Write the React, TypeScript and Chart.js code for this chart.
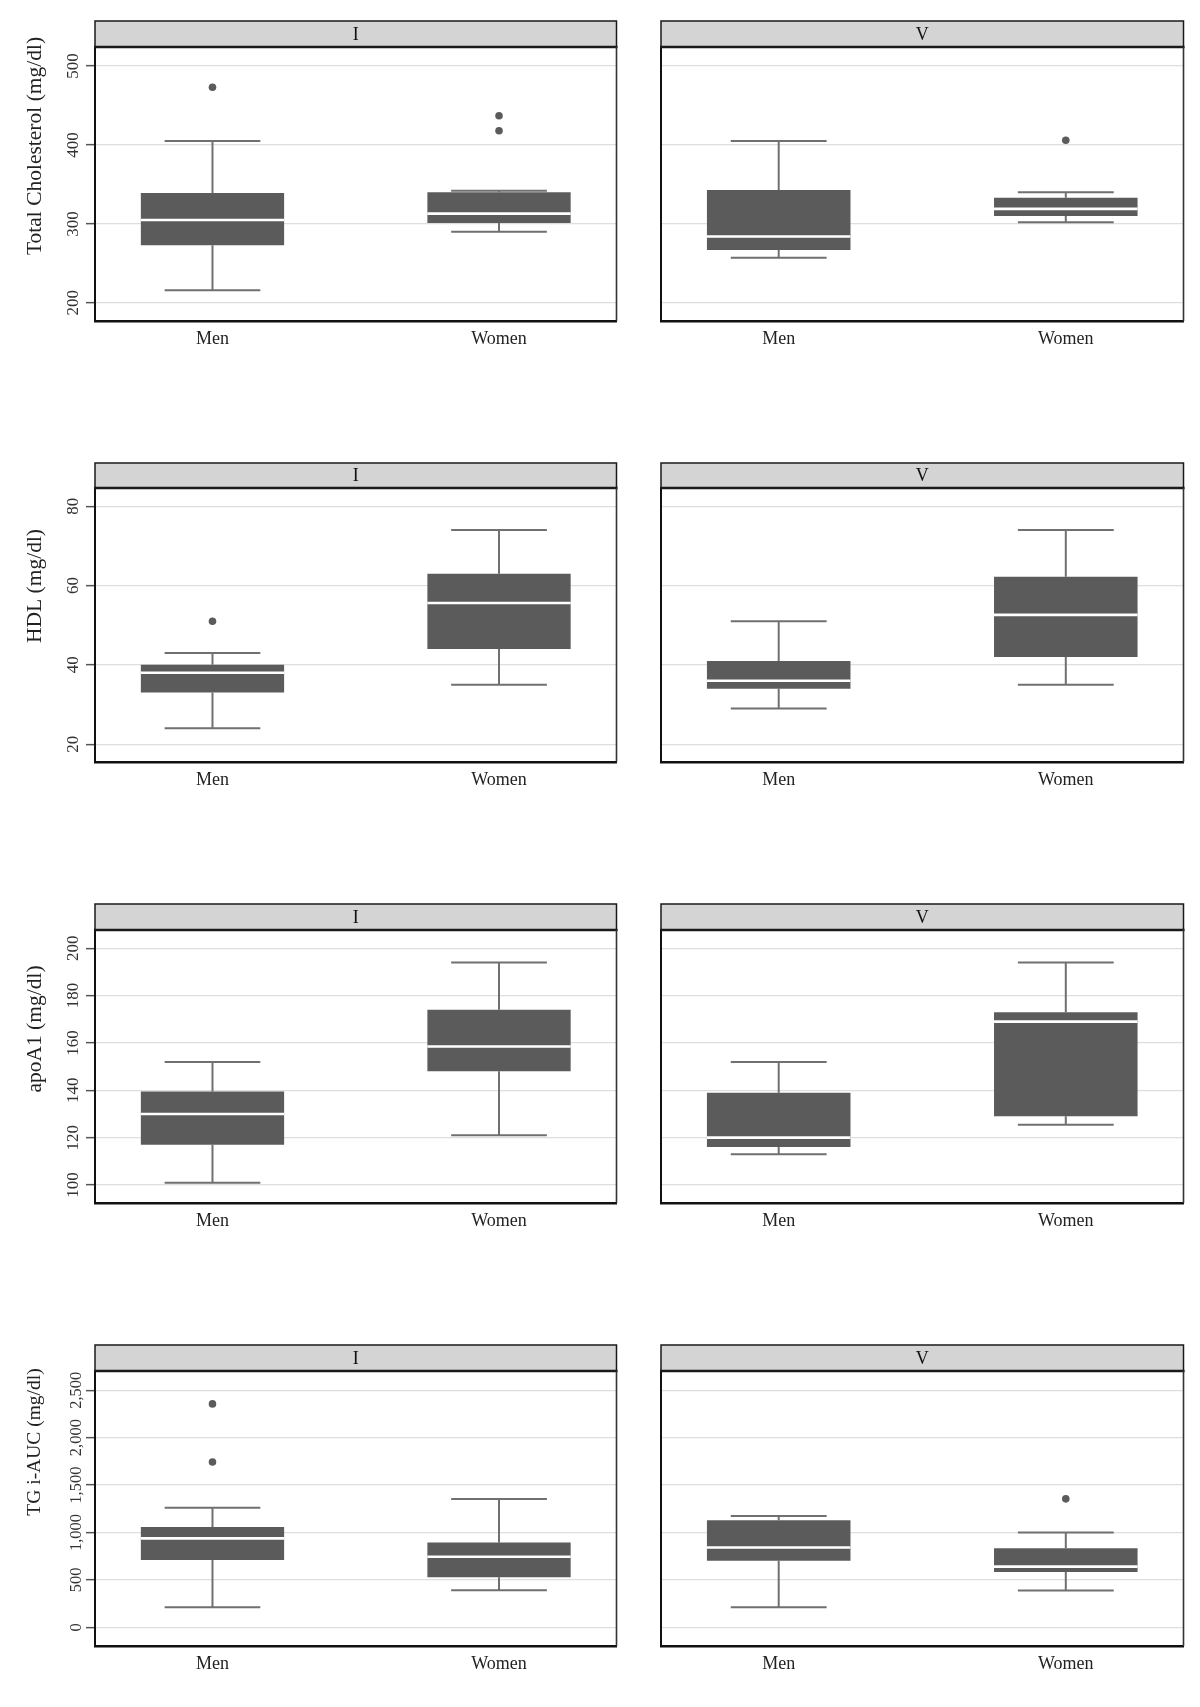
import React, { useEffect, useRef } from "react";
import { Chart, registerables } from "chart.js";

Chart.register(...registerables);

const FONT = "'Liberation Serif', 'Times New Roman', serif";

const categories = ["Men", "Women"];
const panelLabels = ["I", "V"];

// [lower whisker, Q1, median, Q3, upper whisker] — Men, Women
const cholI = [[216, 273, 305, 339, 405], [290, 301, 313, 340, 342]];
const cholV = [[257, 267, 284, 343, 405], [302, 310, 319, 333, 340]];
const cholIOut = [[473], [437, 418]];
const cholVOut = [[], [406]];

const hdlI = [[24, 33, 38, 40, 43], [35, 44, 55.6, 63, 74]];
const hdlV = [[29, 34, 36, 41, 51], [35, 42, 52.6, 62.2, 74]];
const hdlIOut = [[51], []];
const hdlVOut = [[], []];

const apoI = [[101, 117, 130, 139.5, 152], [121, 148, 158.5, 174, 194]];
const apoV = [[113, 116, 120, 139, 152], [125.5, 129, 169, 173, 194]];
const apoIOut = [[], []];
const apoVOut = [[], []];

const tgI = [[211, 710, 938, 1057, 1260], [390, 527, 744, 895, 1352]];
const tgV = [[211, 701, 842, 1130, 1175], [387, 584, 640, 833, 1000]];
const tgIOut = [[2356, 1744], []];
const tgVOut = [[], [1355]];

const cholTicks = [200, 300, 400, 500];
const hdlTicks = [20, 40, 60, 80];
const apoTicks = [100, 120, 140, 160, 180, 200];
const tgTicks = [0, 500, 1000, 1500, 2000, 2500];

const yTitles = [
  "Total Cholesterol (mg/dl)",
  "HDL (mg/dl)",
  "apoA1 (mg/dl)",
  "TG i-AUC (mg/dl)",
];

// layout / style (not data)
const rows = [
  { title: yTitles[0], ticks: cholTicks, range: [177, 524], stats: [cholI, cholV], outs: [cholIOut, cholVOut], geom: [21, 47, 321], titleY: 146, titleSize: 21.5, tickSize: 17, tickGap: 17 },
  { title: yTitles[1], ticks: hdlTicks, range: [15.5, 84.6], stats: [hdlI, hdlV], outs: [hdlIOut, hdlVOut], geom: [463, 488, 762], titleY: 586, titleSize: 21.5, tickSize: 17, tickGap: 17 },
  { title: yTitles[2], ticks: apoTicks, range: [92.4, 207.7], stats: [apoI, apoV], outs: [apoIOut, apoVOut], geom: [904, 930, 1203], titleY: 1029, titleSize: 21.5, tickSize: 17, tickGap: 17 },
  { title: yTitles[3], ticks: tgTicks, range: [-197, 2703], stats: [tgI, tgV], outs: [tgIOut, tgVOut], geom: [1345, 1371, 1646], titleY: 1442, titleSize: 19.5, tickSize: 16.5, tickGap: 14.5 },
];

const cols = [
  { left: 0, width: 640, yW: 95, padRight: 23.5 },
  { left: 640, width: 560, yW: 21, padRight: 16.5 },
];

const X_PAD = 0.41;
const BOX_HALF = 0.25;
const CAP_HALF = 0.167;
const BOX_COLOR = "#5b5b5b";
const WHISKER_COLOR = "#707070";

const facetPlugin = {
  id: "facet",
  afterDraw(chart: any, _args: any, opts: any) {
    const { ctx, chartArea: a } = chart;
    ctx.save();
    const sh = opts.stripH;
    // strip
    ctx.fillStyle = "#d4d4d4";
    ctx.fillRect(a.left, a.top - sh, a.right - a.left, sh);
    ctx.strokeStyle = "#1a1a1a";
    ctx.lineWidth = 1.5;
    ctx.strokeRect(a.left, a.top - sh, a.right - a.left, sh);
    ctx.lineWidth = 2.5;
    ctx.beginPath();
    ctx.moveTo(a.left - 1, a.top);
    ctx.lineTo(a.right + 1, a.top);
    ctx.stroke();
    // right border
    ctx.lineWidth = 1.6;
    ctx.strokeStyle = "#333";
    ctx.beginPath();
    ctx.moveTo(a.right, a.top);
    ctx.lineTo(a.right, a.bottom);
    ctx.stroke();
    // strip label
    ctx.fillStyle = "#111";
    ctx.font = `18px ${FONT}`;
    ctx.textAlign = "center";
    ctx.textBaseline = "middle";
    ctx.fillText(opts.label, (a.left + a.right) / 2, a.top - sh / 2 + 1);

    if (opts.showY) {
      const ys = chart.scales.y;
      ctx.fillStyle = "#333";
      ctx.font = `${opts.tickSize}px ${FONT}`;
      ctx.textAlign = "center";
      ctx.textBaseline = "alphabetic";
      ys.ticks.forEach((t: any) => {
        const y = ys.getPixelForValue(t.value);
        ctx.save();
        ctx.translate(a.left - opts.tickGap, y);
        ctx.rotate(-Math.PI / 2);
        ctx.fillText(Number(t.value).toLocaleString("en-US"), 0, 0);
        ctx.restore();
      });
      ctx.save();
      ctx.fillStyle = "#222";
      ctx.font = `${opts.titleSize}px ${FONT}`;
      ctx.textAlign = "center";
      ctx.textBaseline = "middle";
      ctx.translate(35, opts.titleY);
      ctx.rotate(-Math.PI / 2);
      ctx.fillText(opts.title, 0, 0);
      ctx.restore();
    }
    ctx.restore();
  },
};

function buildData(stats: number[][], outs: number[][]) {
  const whiskers: any[] = [];
  const boxes: any[] = [];
  const medians: any[] = [];
  const points: any[] = [];
  stats.forEach((s, i) => {
    const x = i + 1;
    const [lo, q1, md, q3, hi] = s;
    whiskers.push(
      { x, y: q3 }, { x, y: hi }, { x, y: null },
      { x: x - CAP_HALF, y: hi }, { x: x + CAP_HALF, y: hi }, { x, y: null },
      { x, y: q1 }, { x, y: lo }, { x, y: null },
      { x: x - CAP_HALF, y: lo }, { x: x + CAP_HALF, y: lo }, { x, y: null }
    );
    boxes.push({ x, y: [q1, q3] });
    medians.push({ x: x - BOX_HALF, y: md }, { x: x + BOX_HALF, y: md }, { x, y: null });
    outs[i].forEach((v) => points.push({ x, y: v }));
  });
  return { whiskers, boxes, medians, points };
}

function Panel({ r, c }: { r: number; c: number }) {
  const ref = useRef<HTMLCanvasElement | null>(null);
  const row = rows[r];
  const col = cols[c];
  const [stripTop, plotTop, plotBottom] = row.geom;
  const canvasTop = stripTop - 6;
  const bottomH = 34;
  const height = plotBottom + bottomH - canvasTop;

  useEffect(() => {
    if (!ref.current) return;
    const d = buildData(row.stats[c], row.outs[c]);
    const chart = new Chart(ref.current, {
      type: "bar",
      data: {
        datasets: [
          {
            type: "line",
            data: d.whiskers,
            borderColor: WHISKER_COLOR,
            borderWidth: 2,
            pointRadius: 0,
            spanGaps: false,
            fill: false,
            tension: 0,
            order: 4,
          } as any,
          {
            type: "bar",
            data: d.boxes,
            backgroundColor: BOX_COLOR,
            borderWidth: 0,
            barPercentage: 1,
            categoryPercentage: 0.5,
            order: 3,
          } as any,
          {
            type: "line",
            data: d.medians,
            borderColor: "#ffffff",
            borderWidth: 2.6,
            pointRadius: 0,
            spanGaps: false,
            fill: false,
            order: 2,
          } as any,
          {
            type: "scatter",
            data: d.points,
            backgroundColor: BOX_COLOR,
            borderWidth: 0,
            pointRadius: 3.8,
            order: 1,
          } as any,
        ],
      },
      options: {
        animation: false,
        responsive: false,
        maintainAspectRatio: false,
        events: [],
        layout: { padding: { top: plotTop - canvasTop, right: col.padRight, left: 0, bottom: 0 } },
        plugins: {
          legend: { display: false },
          tooltip: { enabled: false },
          facet: {
            stripH: plotTop - stripTop,
            label: panelLabels[c],
            showY: c === 0,
            tickSize: row.tickSize,
            tickGap: row.tickGap,
            title: row.title,
            titleSize: row.titleSize,
            titleY: row.titleY - canvasTop,
          },
        } as any,
        scales: {
          x: {
            type: "linear",
            min: 1 - X_PAD,
            max: categories.length + X_PAD,
            offset: false,
            grid: { display: false, drawTicks: false, offset: false },
            border: { display: true, color: "#111", width: 2.5 },
            afterBuildTicks: (s: any) => {
              s.ticks = categories.map((_, i) => ({ value: i + 1 }));
            },
            afterFit: (s: any) => {
              s.height = bottomH;
            },
            ticks: {
              autoSkip: false,
              maxRotation: 0,
              minRotation: 0,
              padding: 7,
              color: "#222",
              font: { family: FONT, size: 18 },
              callback: (v: any) => categories[Math.round(v) - 1] ?? "",
            },
          },
          y: {
            type: "linear",
            min: row.range[0],
            max: row.range[1],
            afterBuildTicks: (s: any) => {
              s.ticks = row.ticks.map((v) => ({ value: v }));
            },
            afterFit: (s: any) => {
              s.width = col.yW;
            },
            ticks: { display: false },
            grid: {
              color: "#dedede",
              lineWidth: 1.3,
              drawTicks: c === 0,
              tickLength: 9,
              tickColor: "#555",
              tickWidth: 1.5,
            },
            border: { display: true, color: "#111", width: 2 },
          },
        } as any,
      },
      plugins: [facetPlugin as any],
    });
    return () => chart.destroy();
  }, [r, c]);

  return (
    <canvas
      ref={ref}
      width={col.width}
      height={height}
      style={{ position: "absolute", left: col.left, top: canvasTop, width: col.width, height }}
    />
  );
}

export default function App() {
  return (
    <div style={{ position: "absolute", left: 0, top: 0, width: 1200, height: 1707, background: "#fff" }}>
      {rows.map((_, r) =>
        cols.map((__, c) => <Panel key={`${r}-${c}`} r={r} c={c} />)
      )}
    </div>
  );
}
